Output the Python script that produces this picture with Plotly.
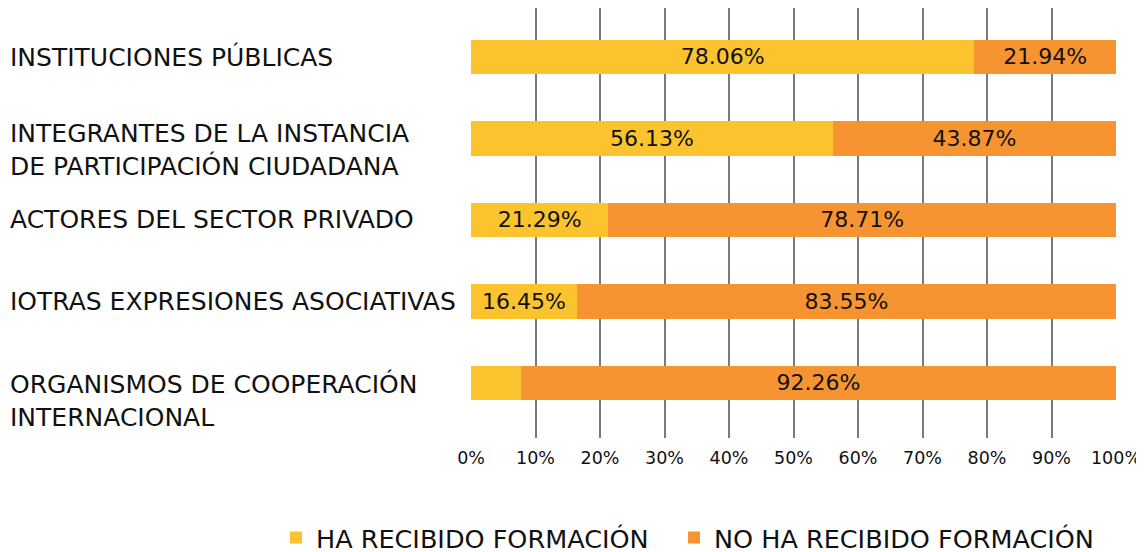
import plotly.graph_objects as go

categories = [
    "INSTITUCIONES PÚBLICAS",
    "INTEGRANTES DE LA INSTANCIA<br>DE PARTICIPACIÓN CIUDADANA",
    "ACTORES DEL SECTOR PRIVADO",
    "IOTRAS EXPRESIONES ASOCIATIVAS",
    "ORGANISMOS DE COOPERACIÓN<br>INTERNACIONAL",
]
ha_recibido = [78.06, 56.13, 21.29, 16.45, 7.74]
no_ha_recibido = [21.94, 43.87, 78.71, 83.55, 92.26]
ha_text = ["78.06%", "56.13%", "21.29%", "16.45%", ""]
no_text = ["21.94%", "43.87%", "78.71%", "83.55%", "92.26%"]
tick_vals = [0, 10, 20, 30, 40, 50, 60, 70, 80, 90, 100]
tick_text = [f"{v}%" for v in tick_vals]

FONT = "DejaVu Sans"
YELLOW = "#FBC42E"
ORANGE = "#F79432"

ypos = list(range(len(categories)))

fig = go.Figure()
fig.add_trace(go.Bar(
    y=ypos, x=ha_recibido, orientation="h", name="HA RECIBIDO FORMACIÓN",
    marker=dict(color=YELLOW, line=dict(width=0)),
    text=ha_text, textposition="inside", insidetextanchor="middle",
    textfont=dict(family=FONT, size=22, color="#111111"),
    width=0.42, hoverinfo="skip", legend="legend",
))
fig.add_trace(go.Bar(
    y=ypos, x=no_ha_recibido, orientation="h", name="NO HA RECIBIDO FORMACIÓN",
    marker=dict(color=ORANGE, line=dict(width=0)),
    text=no_text, textposition="inside", insidetextanchor="middle",
    textfont=dict(family=FONT, size=22, color="#111111"),
    width=0.42, hoverinfo="skip", legend="legend2",
))

shifts = [0, -12, 0, 0, -18]
for i, (cat, s) in enumerate(zip(categories, shifts)):
    fig.add_annotation(
        x=-463 / 645, xref="paper", y=i, yref="y", text=cat,
        xanchor="left", yanchor="middle", align="left", showarrow=False,
        yshift=s, font=dict(family=FONT, size=25, color="#111111"),
    )

legend_common = dict(
    orientation="h", xanchor="left", y=-0.2325, yanchor="middle",
    font=dict(family=FONT, size=25.5, color="#111111"),
    itemwidth=30, bgcolor="rgba(0,0,0,0)",
)

fig.update_layout(
    barmode="stack",
    width=1136, height=560,
    margin=dict(l=463, r=28, t=0, b=130),
    paper_bgcolor="white", plot_bgcolor="white",
    uniformtext=dict(minsize=8, mode="show"),
    xaxis=dict(
        range=[0, 100], tickvals=tick_vals, ticktext=tick_text,
        showgrid=True, gridcolor="#7a7a7a", gridwidth=2,
        zeroline=False, showline=False,
        ticks="", ticklabelstandoff=7,
        tickfont=dict(family=FONT, size=17.5, color="#111111"),
        fixedrange=True,
    ),
    yaxis=dict(
        range=[4.675, -0.601], showticklabels=False, showgrid=False,
        zeroline=False, showline=False, fixedrange=True,
    ),
    legend=dict(x=-195 / 645, **legend_common),
    legend2=dict(x=203 / 645, **legend_common),
    showlegend=True,
)

fig.write_html("out.html")
